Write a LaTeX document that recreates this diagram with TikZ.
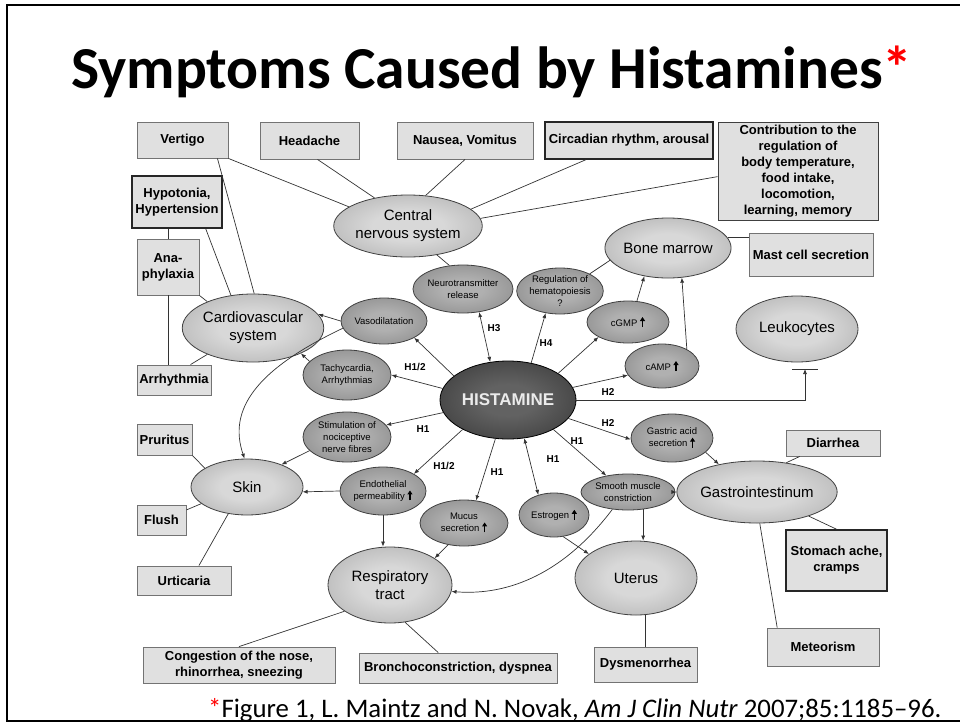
\documentclass[tikz,border=0pt]{standalone}
\usepackage{fontspec}
\setmainfont{Liberation Sans}
\newfontfamily\calibri{Carlito}
\usetikzlibrary{shapes.geometric,arrows.meta}
\definecolor{orgin}{HTML}{D8D8D8}
\definecolor{orgout}{HTML}{959595}
\definecolor{effin}{HTML}{B0B0B0}
\definecolor{effout}{HTML}{727272}
\definecolor{histin}{HTML}{626262}
\definecolor{histout}{HTML}{202020}
\definecolor{boxgray}{HTML}{E0E0E0}
\pgfdeclareradialshading{organshade}{\pgfpointorigin}{color(0bp)=(orgin);color(12bp)=(orgin);color(50bp)=(orgout);color(100bp)=(orgout)}
\pgfdeclareradialshading{effshade}{\pgfpointorigin}{color(0bp)=(effin);color(10bp)=(effin);color(50bp)=(effout);color(100bp)=(effout)}
\pgfdeclareradialshading{histshade}{\pgfpointorigin}{color(0bp)=(histin);color(10bp)=(histin);color(50bp)=(histout);color(100bp)=(histout)}
\newcommand{\uparr}{\tikz[baseline=0pt]\draw[line width=1.2pt,-{Triangle[length=4pt,width=5pt]}] (0pt,-1pt) -- (0pt,9pt);}
\tikzset{
  sym/.style={draw=black!55,fill=boxgray,line width=0.9pt,inner sep=0pt,align=center,font=\bfseries\fontsize{13}{16}\selectfont},
  symdark/.style={sym,draw=black!85,line width=1.6pt},
  organ/.style={ellipse,draw=black!75,line width=0.8pt,inner sep=0pt,shade,shading=organshade,align=center,font=\fontsize{15}{18}\selectfont},
  effect/.style={ellipse,draw=black!75,line width=0.8pt,inner sep=0pt,shade,shading=effshade,align=center,font=\fontsize{9.5}{12}\selectfont},
  histnode/.style={ellipse,draw=black,line width=0.8pt,inner sep=0pt,shade,shading=histshade,text=black!8,font=\bfseries\fontsize{17}{20}\selectfont},
  lnk/.style={draw=black!80,line width=0.7pt},
  arr/.style={lnk,-{Latex[length=5pt,width=4pt]}},
  darr/.style={lnk,{Latex[length=5pt,width=4pt]}-{Latex[length=5pt,width=4pt]}},
  rcpt/.style={inner sep=0pt,font=\bfseries\fontsize{10}{12}\selectfont}
}
\begin{document}
\begin{tikzpicture}[x=1pt,y=-1pt]
\useasboundingbox (0,0) rectangle (960,725);
\draw[line width=2.4pt] (960,5) -- (7,5) -- (7,721) -- (960,721);
\node[anchor=base west,inner sep=0pt,font=\calibri\bfseries\fontsize{59.5}{62}\selectfont] (title) at (71,88) {Symptoms Caused by Histamines{\color{red}*}};
\node[anchor=base west,inner sep=0pt,font=\calibri\fontsize{26.8}{28}\selectfont] (source) at (208,717) {{\color{red}*}Figure 1, L. Maintz and N. Novak, \textit{Am J Clin Nutr} 2007;85:1185–96.};

\node[sym,minimum width=91pt,minimum height=36pt] (vertigo) at (182.5,140) {Vertigo};
\node[sym,minimum width=99pt,minimum height=37pt] (headache) at (309.5,140.5) {Headache};
\node[sym,minimum width=136pt,minimum height=37pt] (nausea) at (465,140.5) {Nausea, Vomitus};
\node[symdark,minimum width=168pt,minimum height=37pt] (circadian) at (629,140.5) {Circadian rhythm, arousal};
\node[sym,draw=black!75,minimum width=160pt,minimum height=98pt] (contrib) at (798,171) {Contribution to the\\regulation of\\body temperature,\\food intake,\\locomotion,\\learning, memory};
\node[symdark,minimum width=90pt,minimum height=52pt] (hypo) at (177,202) {Hypotonia,\\Hypertension};
\node[sym,minimum width=62pt,minimum height=56pt] (ana) at (168,267) {Ana-\\phylaxia};
\node[sym,minimum width=124pt,minimum height=43pt] (mast) at (811,254.5) {Mast cell secretion};
\node[sym,minimum width=74pt,minimum height=30pt] (arrh) at (174,380) {Arrhythmia};
\node[sym,minimum width=55pt,minimum height=31pt] (pruritus) at (164.5,439.5) {Pruritus};
\node[sym,minimum width=49pt,minimum height=30pt] (flush) at (161.5,520) {Flush};
\node[sym,minimum width=94pt,minimum height=29pt] (urticaria) at (184,580.5) {Urticaria};
\node[sym,minimum width=192pt,minimum height=36pt] (congestion) at (239,665) {Congestion of the nose,\\rhinorrhea, sneezing};
\node[sym,minimum width=198pt,minimum height=30pt] (broncho) at (458,668) {Bronchoconstriction, dyspnea};
\node[sym,minimum width=103pt,minimum height=35pt] (dysmen) at (645.5,664.5) {Dysmenorrhea};
\node[sym,minimum width=94pt,minimum height=26pt] (diarrhea) at (833,443) {Diarrhea};
\node[symdark,minimum width=101pt,minimum height=61pt] (stomach) at (836.5,560.5) {Stomach ache,\\cramps};
\node[sym,minimum width=112pt,minimum height=38pt] (meteor) at (823,647) {Meteorism};

\node[organ,minimum width=124pt,minimum height=62pt] (cns) at (408,226) {Central\\nervous system};
\node[organ,minimum width=112pt,minimum height=60pt] (bone) at (668,248) {Bone marrow};
\node[organ,minimum width=122pt,minimum height=68pt] (cardio) at (253,328) {Cardiovascular\\system};
\node[organ,minimum width=122pt,minimum height=66pt] (leuko) at (797,329) {Leukocytes};
\node[organ,minimum width=112pt,minimum height=56pt] (skin) at (247,487) {Skin};
\node[organ,minimum width=120pt,minimum height=62pt] (gastro) at (757,492) {Gastrointestinum};
\node[organ,minimum width=124pt,minimum height=76pt] (resp) at (390,585) {Respiratory\\tract};
\node[organ,minimum width=122pt,minimum height=74pt] (uterus) at (636,578) {Uterus};

\node[effect,minimum width=86pt,minimum height=48pt] (neuro) at (463,289) {Neurotransmitter\\release};
\node[effect,minimum width=80pt,minimum height=46pt] (hema) at (560,291) {Regulation of\\hematopoiesis\\?};
\node[effect,minimum width=86pt,minimum height=46pt] (vaso) at (384,321) {Vasodilatation};
\node[effect,minimum width=82pt,minimum height=42pt] (cgmp) at (628,322) {cGMP \uparr};
\node[effect,minimum width=74pt,minimum height=44pt] (camp) at (662,366) {cAMP \uparr};
\node[effect,minimum width=88pt,minimum height=50pt] (tachy) at (347,375) {Tachycardia,\\Arrhythmias};
\node[effect,minimum width=88pt,minimum height=50pt] (stim) at (347,437) {Stimulation of\\nociceptive\\nerve fibres};
\node[effect,minimum width=82pt,minimum height=48pt] (gastric) at (672,438) {Gastric acid\\secretion \uparr};
\node[effect,minimum width=86pt,minimum height=48pt] (endo) at (383,491) {Endothelial\\permeability \uparr};
\node[effect,minimum width=88pt,minimum height=46pt] (mucus) at (464,523) {Mucus\\secretion \uparr};
\node[effect,minimum width=70pt,minimum height=44pt] (estrogen) at (554,515) {Estrogen \uparr};
\node[effect,minimum width=94pt,minimum height=36pt] (smooth) at (628,492) {Smooth muscle\\constriction};
\node[histnode,minimum width=136pt,minimum height=78pt] (hist) at (508,400) {HISTAMINE};
\coordinate (leukbar) at (805,369);

\draw[lnk] (vertigo.south east) -- (cns.162);
\draw[lnk] ([xshift=-11pt]vertigo.south east) -- (cardio.88);
\draw[lnk] (headache.-67) -- (cns.140);
\draw[lnk] (nausea.south) -- (cns.60);
\draw[lnk] (circadian.-156) -- (cns.15);
\draw[lnk] (contrib.184) -- (cns.6);
\draw[lnk] (ana.north) -- (ana.north |- hypo.south);
\draw[lnk] (hypo.-43) -- (cardio.124);
\draw[lnk] (ana.south east) -- (cardio.150);
\draw[lnk] (ana.south) -- (ana.south |- arrh.north);
\draw[lnk] (arrh.43) -- (cardio.-150);
\draw[lnk] (pruritus.south east) -- (skin.156);
\draw[lnk] (flush.22) -- (skin.-160);
\draw[lnk] (urticaria.45) -- (skin.-125);
\draw[lnk] (resp.-150) -- (congestion.north);
\draw[lnk] (resp.-68) -- (broncho.142);
\draw[lnk] (dysmen.north) -- (dysmen.north |- uterus.south);
\draw[lnk] (gastro.45) -- (diarrhea.-158);
\draw[lnk] (gastro.-25) -- (stomach.north);
\draw[lnk] (gastro.-85) -- (meteor.157);
\draw[lnk] (bone.10) -- (bone.10 -| mast.west);
\draw[lnk] (bone.-168) -- (hema.30);
\draw[lnk] (cns.-45) -- (neuro.120);

\draw[darr] (neuro.-55) -- (hist.115);
\draw[arr] (hist.58) -- (hema.-123);
\draw[arr] (hist.28) -- (cgmp.-153);
\draw[arr] (hist.11) -- (camp.-165);
\draw[arr] (hist.east) -| (leukbar);
\draw[lnk,line width=0.9pt] ([xshift=-13pt]leukbar) -- ([xshift=13pt]leukbar);
\draw[arr] (hist.-17) -- (gastric.182);
\draw[arr] (hist.-33) -- (smooth.143);
\draw[darr] (hist.-67) -- (estrogen.128);
\draw[arr] (hist.-108) -- (mucus.62);
\draw[arr] (hist.-147) -- (endo.29);
\draw[arr] (hist.-169) -- (stim.17);
\draw[arr] (hist.170) -- (tachy.east);
\draw[arr] (hist.156) -- (vaso.-29);
\draw[arr] (cgmp.67) -- (bone.-130);
\draw[arr] (camp.34) -- (bone.-65);
\draw[arr] (vaso.west) -- (cardio.12);
\draw[arr] (tachy.160) -- (cardio.-28);
\draw[arr] (stim.-160) -- (skin.33);
\draw[arr] (vaso.190) .. controls (255,370) and (228,410) .. (skin.95);
\draw[arr] (endo.west) -- (skin.-5);
\draw[arr] (endo.south) -- (endo.south |- resp.north);
\draw[arr] (mucus.-126) -- (resp.31);
\draw[arr] (smooth.-49) -- (smooth.-49 |- uterus.north);
\draw[arr] (smooth.east) -- (gastro.west);
\draw[arr] (estrogen.-67) -- (uterus.153);
\draw[arr] (gastric.-23) -- (gastro.144);
\draw[arr] (smooth.-132) .. controls (565,572) and (510,596) .. (resp.-6);

\node[rcpt] (h3) at (494,328) {H3};
\node[rcpt] (h4) at (546,343) {H4};
\node[rcpt] (h12a) at (415,367) {H1/2};
\node[rcpt] (h1a) at (423,429) {H1};
\node[rcpt] (h12b) at (444,466) {H1/2};
\node[rcpt] (h1b) at (497,472) {H1};
\node[rcpt] (h1c) at (553,459) {H1};
\node[rcpt] (h1d) at (577,441) {H1};
\node[rcpt] (h2a) at (608,423) {H2};
\node[rcpt] (h2b) at (608,392) {H2};
\end{tikzpicture}
\end{document}
